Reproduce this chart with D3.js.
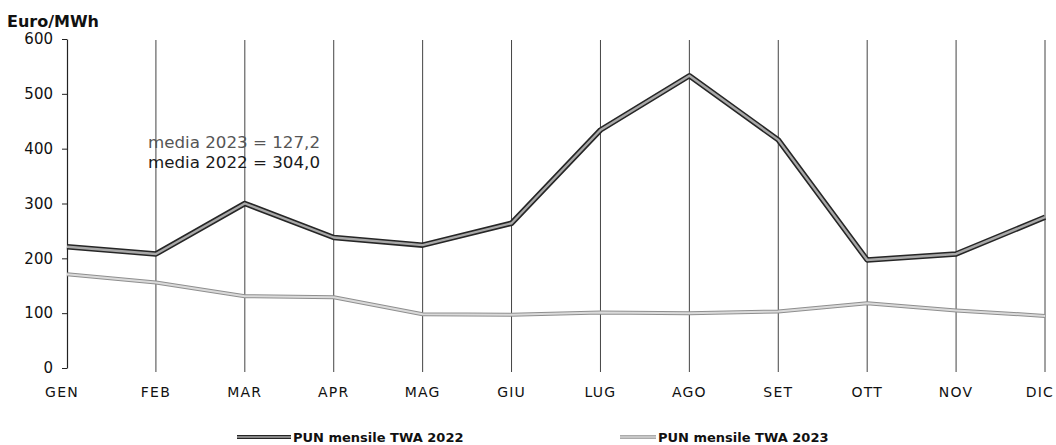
<!DOCTYPE html>
<html>
<head>
<meta charset="utf-8">
<script src="https://cdn.jsdelivr.net/npm/d3@7"></script>
<style>
  body { margin: 0; background: #fff; }
  svg { display: block; font-family: "DejaVu Sans", sans-serif; }
</style>
</head>
<body>
<div id="chart-area"></div>
<script>
// data
const months = ["GEN", "FEB", "MAR", "APR", "MAG", "GIU", "LUG", "AGO", "SET", "OTT", "NOV", "DIC"]
const pun2022 = [221, 208, 300, 238, 224, 264, 434, 533, 416, 197, 208, 275]
const pun2023 = [171, 156, 131, 129, 98, 97, 101, 100, 103, 118, 105, 95]
const yTicks = [0, 100, 200, 300, 400, 500, 600]
const notes = ["media 2023 = 127,2", "media 2022 = 304,0"]
const legendLabels = ["PUN mensile TWA  2022", "PUN mensile TWA  2023"]

const W = 1056, H = 445

const svg = d3.select("#chart-area").append("svg")
  .attr("width", W)
  .attr("height", H)

// scales
const x = d3.scalePoint().domain(months).range([67, 1045])
const y = d3.scaleLinear().domain([0, 600]).range([368, 39])

// vertical grid lines
svg.append("g")
  .selectAll("line")
  .data(months.slice(1))
  .join("line")
  .attr("x1", d => x(d))
  .attr("x2", d => x(d))
  .attr("y1", y(600) + 1)
  .attr("y2", y(0) + 4)
  .attr("stroke", "#444")
  .attr("stroke-width", 1)

// y axis
const yAxis = svg.append("g")
  .attr("transform", `translate(${x("GEN")}, 0)`)
  .call(d3.axisLeft(y).tickValues(yTicks).tickSize(5).tickSizeOuter(0).tickPadding(9))
yAxis.select(".domain").attr("stroke", "#222").attr("stroke-width", 1.2)
yAxis.selectAll(".tick line").attr("stroke", "#222")
yAxis.selectAll(".tick text")
  .attr("font-family", "DejaVu Sans, sans-serif")
  .attr("font-size", "15px")
  .attr("fill", "#111")

// month labels (last one kept inside the frame)
svg.append("g")
  .selectAll("text")
  .data(months)
  .join("text")
  .attr("x", (d, i) => i === months.length - 1 ? W - 2 : x(d) - (i === 0 ? 5 : 0))
  .attr("y", 397)
  .attr("text-anchor", (d, i) => i === months.length - 1 ? "end" : "middle")
  .attr("font-size", "14px")
  .attr("letter-spacing", "1.2px")
  .attr("fill", "#111")
  .text(d => d)

// unit label
svg.append("text")
  .attr("x", 7)
  .attr("y", 27)
  .attr("font-size", "16px")
  .attr("font-weight", "bold")
  .attr("fill", "#111")
  .text("Euro/MWh")

// lines
const line = d3.line()
  .x((d, i) => x(months[i]))
  .y(d => y(d))

function drawSeries(values, outer, inner, wOuter, wInner) {
  svg.append("path")
    .attr("d", line(values))
    .attr("fill", "none")
    .attr("stroke", outer)
    .attr("stroke-width", wOuter)
    .attr("stroke-linejoin", "round")
  svg.append("path")
    .attr("d", line(values))
    .attr("fill", "none")
    .attr("stroke", inner)
    .attr("stroke-width", wInner)
    .attr("stroke-linejoin", "round")
}
drawSeries(pun2023, "#8f8f8f", "#dadada", 4, 2)
drawSeries(pun2022, "#262626", "#a8a8a8", 5.5, 2.4)

// annotation
svg.append("text")
  .attr("x", 148)
  .attr("y", 148)
  .attr("font-size", "16px")
  .attr("textLength", 172)
  .attr("lengthAdjust", "spacingAndGlyphs")
  .attr("fill", "#555")
  .text(notes[0])
svg.append("text")
  .attr("x", 148)
  .attr("y", 168)
  .attr("font-size", "16px")
  .attr("textLength", 172)
  .attr("lengthAdjust", "spacingAndGlyphs")
  .attr("fill", "#1a1a1a")
  .text(notes[1])

// legend
const legend = [
  { label: legendLabels[0], x1: 237, x2: 291, tx: 293, outer: "#262626", inner: "#a8a8a8", w: 4 },
  { label: legendLabels[1], x1: 620, x2: 656, tx: 658, outer: "#8f8f8f", inner: "#dadada", w: 3.5 }
]
const lg = svg.append("g")
legend.forEach(d => {
  lg.append("line")
    .attr("x1", d.x1).attr("x2", d.x2)
    .attr("y1", 437).attr("y2", 437)
    .attr("stroke", d.outer).attr("stroke-width", d.w)
  lg.append("line")
    .attr("x1", d.x1).attr("x2", d.x2)
    .attr("y1", 437).attr("y2", 437)
    .attr("stroke", d.inner).attr("stroke-width", 1.4)
  lg.append("text")
    .attr("x", d.tx)
    .attr("y", 442)
    .attr("font-size", "13px")
    .attr("font-weight", "bold")
    .attr("fill", "#111")
    .text(d.label)
})
</script>
</body>
</html>
